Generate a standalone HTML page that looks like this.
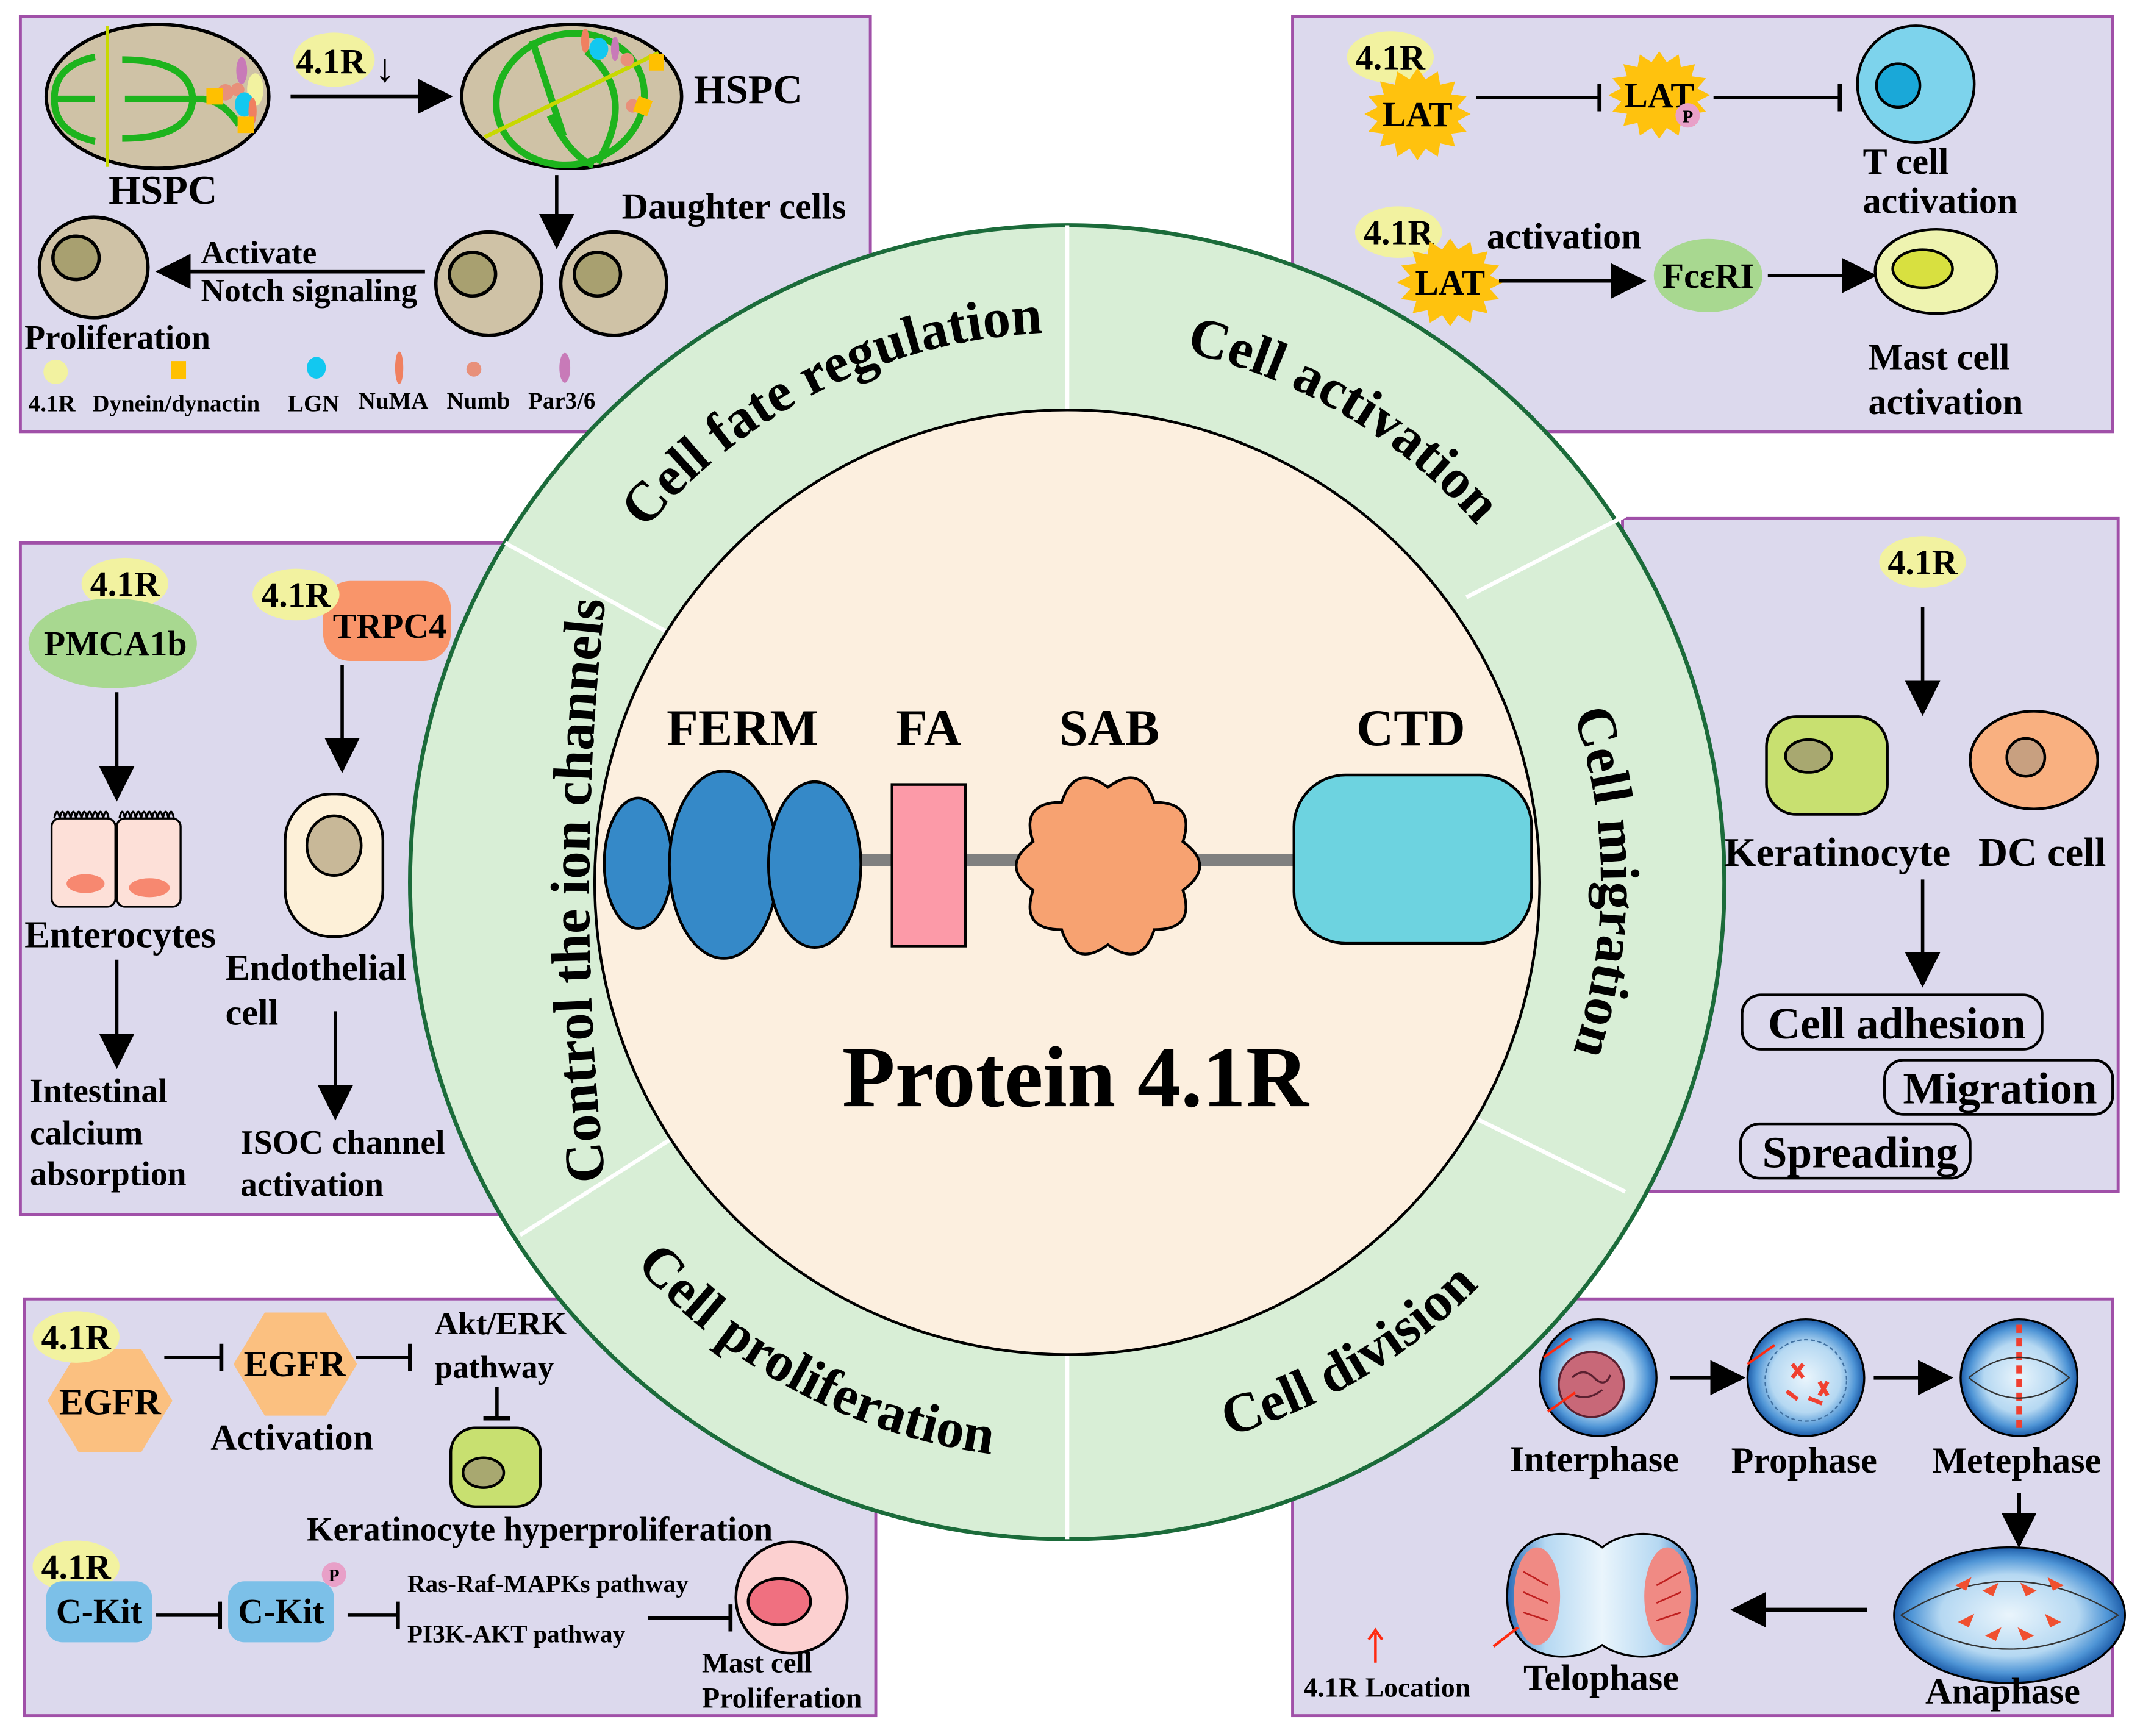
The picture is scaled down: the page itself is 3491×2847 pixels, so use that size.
<!DOCTYPE html>
<html><head><meta charset="utf-8"><style>
html,body{margin:0;padding:0;background:#fff;}
svg{display:block;}
text{font-family:"Liberation Serif",serif;font-weight:bold;fill:#000;}
</style></head><body>
<svg xmlns="http://www.w3.org/2000/svg" width="3491" height="2847" viewBox="0 0 1568 1279" preserveAspectRatio="none">
<defs>
<marker id="ah" viewBox="0 0 10 10" refX="9" refY="5" markerWidth="26" markerHeight="28" markerUnits="userSpaceOnUse" orient="auto"><path d="M0,0L10,5L0,10Z" fill="#000"/></marker>
<marker id="ib" viewBox="0 0 4 20" refX="2" refY="10" markerWidth="4" markerHeight="20" markerUnits="userSpaceOnUse" orient="auto"><path d="M2,0V20" stroke="#000" stroke-width="3"/></marker>
<radialGradient id="cg" cx="50%" cy="50%" r="50%"><stop offset="0" stop-color="#eaf5fc"/><stop offset="0.6" stop-color="#b5d8f2"/><stop offset="0.85" stop-color="#4f95d6"/><stop offset="1" stop-color="#1d5ca8"/></radialGradient>
<linearGradient id="tg" x1="0" x2="1" y1="0" y2="0"><stop offset="0" stop-color="#2a6cb8"/><stop offset="0.2" stop-color="#b5d8f2"/><stop offset="0.5" stop-color="#eaf5fc"/><stop offset="0.8" stop-color="#b5d8f2"/><stop offset="1" stop-color="#2a6cb8"/></linearGradient>
<g id="star"><polygon points="34,0 25.5,5.1 31.4,13 21.6,14.5 24,24 14.5,21.6 13,31.4 5.1,25.5 0,34 -5.1,25.5 -13,31.4 -14.5,21.6 -24,24 -21.6,14.5 -31.4,13 -25.5,5.1 -34,0 -25.5,-5.1 -31.4,-13 -21.6,-14.5 -24,-24 -14.5,-21.6 -13,-31.4 -5.1,-25.5 0,-34 5.1,-25.5 13,-31.4 14.5,-21.6 24,-24 21.6,-14.5 31.4,-13 25.5,-5.1" fill="#ffc20e"/></g>
<path id="pTL" d="M 450.3,423.5 A 405 405 0 0 1 786,245"/>
<path id="pTR" d="M 786,250 A 400 400 0 0 1 1109.6,414.9"/>
<path id="pR" d="M 1111.8,430.2 A 393 393 0 0 1 1111.8,869.8"/>
<path id="pBR" d="M 786,1075 A 425 425 0 0 0 1130.8,898.4"/>
<path id="pBL" d="M 433.7,887.6 A 425 425 0 0 0 786,1075"/>
<path id="pL" d="M 446,872 A 1932 1932 0 0 1 446,440"/>
</defs>

<rect width="1568" height="1279" fill="#fff"/>

<g fill="#dcd9ed" stroke="#a050a8" stroke-width="2.2">
<rect x="15" y="12" width="626" height="306"/>
<rect x="952" y="12" width="604" height="306"/>
<rect x="15" y="400" width="357" height="495"/>
<rect x="1195" y="382" width="365" height="496"/>
<rect x="18" y="957" width="627" height="307"/>
<rect x="952" y="957" width="604" height="307"/>
</g>

<circle cx="786" cy="650" r="484" fill="#d8eed6" stroke="#1b6b3a" stroke-width="3"/>
<g stroke="#fff" stroke-width="3">
<line x1="786" y1="166" x2="786" y2="302"/>
<line x1="786" y1="998" x2="786" y2="1134"/>
<line x1="372" y1="400" x2="492" y2="466"/>
<line x1="383" y1="910" x2="496" y2="838"/>
<line x1="1080" y1="440" x2="1197" y2="380"/>
<line x1="1085" y1="823" x2="1197" y2="878"/>
</g>
<circle cx="786" cy="650" r="348" fill="#fcefdf" stroke="#000" stroke-width="2"/>

<g font-size="41">
<text><textPath href="#pTL" startOffset="53%" text-anchor="middle">Cell fate regulation</textPath></text>
<text><textPath href="#pTR" startOffset="57%" text-anchor="middle">Cell activation</textPath></text>
<text><textPath href="#pR" startOffset="50%" text-anchor="middle">Cell migration</textPath></text>
<text><textPath href="#pBR" startOffset="57%" text-anchor="middle">Cell division</textPath></text>
<text><textPath href="#pBL" startOffset="50%" text-anchor="middle">Cell proliferation</textPath></text>
<text><textPath href="#pL" startOffset="50%" text-anchor="middle">Control the ion channels</textPath></text>
</g>

<g font-size="38">
<text x="491" y="549">FERM</text>
<text x="660" y="549">FA</text>
<text x="780" y="549">SAB</text>
<text x="999" y="549">CTD</text>
</g>
<rect x="630" y="629" width="325" height="9" fill="#808080"/>
<g stroke="#000" stroke-width="2">
<ellipse cx="470" cy="636" rx="25" ry="48" fill="#3589c8"/>
<ellipse cx="533" cy="637" rx="40" ry="69" fill="#3589c8"/>
<ellipse cx="600" cy="637" rx="34" ry="61" fill="#3589c8"/>
<rect x="657" y="578" width="54" height="119" fill="#fc9aa8"/>
<path d="M 871.2,620.1 Q 896,638 871.2,655.9 Q 880.7,685 850.1,684.9 Q 840.7,714.1 816,696 Q 791.3,714.1 781.9,684.9 Q 751.3,685 760.8,655.9 Q 736,638 760.8,620.1 Q 751.3,591 781.9,591.1 Q 791.3,561.9 816,580 Q 840.7,561.9 850.1,591.1 Q 880.7,591 871.2,620.1 Z" fill="#f7a271"/>
<rect x="953" y="571" width="175" height="124" rx="38" fill="#6dd3e0"/>
</g>
<text x="792" y="815" font-size="64" text-anchor="middle">Protein 4.1R</text>

<!-- TL panel -->
<g stroke="#000" stroke-width="2.5">
<ellipse cx="116" cy="71" rx="82" ry="53" fill="#cfc2a6"/>
<ellipse cx="421" cy="71" rx="81" ry="53" fill="#cfc2a6"/>
</g>
<line x1="79" y1="19" x2="79" y2="123" stroke="#c8d800" stroke-width="2"/>
<g fill="none" stroke="#1db41d" stroke-width="5">
<path d="M70,42 Q40,48 40,73 Q40,98 70,104"/>
<line x1="40" y1="73" x2="70" y2="73"/>
<path d="M90,44 Q140,44 142,73 Q140,102 90,102"/>
<path d="M92,73 H150 Q165,75 176,92"/>
<ellipse cx="420" cy="73" rx="55" ry="48" transform="rotate(-15 420 73)"/>
<path d="M392,30 L415,100"/>
<path d="M432,38 Q470,70 440,120"/>
<path d="M405,85 Q420,115 437,122"/>
</g>
<line x1="357" y1="101" x2="485" y2="39" stroke="#c8d800" stroke-width="3"/>
<ellipse cx="178" cy="52" rx="4" ry="10" fill="#c87ab8"/>
<circle cx="175" cy="66" r="5" fill="#e8907a"/>
<ellipse cx="188" cy="66" rx="6" ry="12" fill="#f2f2a0"/>
<circle cx="166" cy="68" r="6" fill="#e8907a"/>
<rect x="152" y="65" width="12" height="12" fill="#ffc000"/>
<ellipse cx="180" cy="77" rx="7" ry="9" fill="#12c8f0"/>
<ellipse cx="186" cy="82" rx="3" ry="10" fill="#f08060"/>
<rect x="175" y="86" width="12" height="12" fill="#ffc000"/>
<ellipse cx="441" cy="36" rx="7" ry="8" fill="#12c8f0"/>
<ellipse cx="431" cy="30" rx="3" ry="9" fill="#f08060"/>
<ellipse cx="453" cy="36" rx="3" ry="9" fill="#c87ab8"/>
<circle cx="462" cy="44" r="5" fill="#e8907a"/>
<rect x="478" y="40" width="11" height="12" fill="#ffc000"/>
<circle cx="466" cy="78" r="5" fill="#e8907a"/>
<rect x="468" y="72" width="11" height="12" fill="#ffc000" transform="rotate(20 473 78)"/>

<ellipse cx="246" cy="44" rx="30" ry="20" fill="#f2f2a0"/>
<text x="218" y="54" font-size="26">4.1R</text>
<text x="276" y="60" font-size="30">↓</text>
<line x1="214" y1="71" x2="331" y2="71" stroke="#000" stroke-width="3" marker-end="url(#ah)"/>
<text x="511" y="76" font-size="30">HSPC</text>
<text x="80" y="150" font-size="30">HSPC</text>
<line x1="410" y1="129" x2="410" y2="181" stroke="#000" stroke-width="2.5" marker-end="url(#ah)"/>
<text x="458" y="161" font-size="27">Daughter cells</text>
<g stroke="#000" stroke-width="2.5">
<ellipse cx="360" cy="209" rx="39" ry="38" fill="#cfc2a6"/>
<ellipse cx="348" cy="202" rx="17" ry="16" fill="#a8a070"/>
<ellipse cx="452" cy="209" rx="39" ry="38" fill="#cfc2a6"/>
<ellipse cx="440" cy="202" rx="17" ry="16" fill="#a8a070"/>
<ellipse cx="69" cy="197" rx="40" ry="37" fill="#cfc2a6"/>
<ellipse cx="56" cy="190" rx="17" ry="16" fill="#a8a070"/>
</g>
<line x1="313" y1="200" x2="117" y2="200" stroke="#000" stroke-width="3" marker-end="url(#ah)"/>
<text x="148" y="194" font-size="24">Activate</text>
<text x="148" y="222" font-size="24">Notch signaling</text>
<text x="18" y="257" font-size="25">Proliferation</text>
<circle cx="41" cy="274" r="9" fill="#f2f2a0"/>
<rect x="126" y="266" width="11" height="13" fill="#ffc000"/>
<ellipse cx="233" cy="271" rx="7" ry="8" fill="#12c8f0"/>
<ellipse cx="294" cy="271" rx="3" ry="12" fill="#f08060"/>
<circle cx="349" cy="272" r="5.5" fill="#e8907a"/>
<ellipse cx="416" cy="271" rx="4" ry="11" fill="#c87ab8"/>
<g font-size="17.5">
<text x="21" y="303">4.1R</text>
<text x="68" y="303">Dynein/dynactin</text>
<text x="212" y="303">LGN</text>
<text x="264" y="301">NuMA</text>
<text x="329" y="301">Numb</text>
<text x="389" y="301">Par3/6</text>
</g>

<!-- TR panel -->
<ellipse cx="1024" cy="42" rx="32" ry="19" fill="#f2f2a0"/>
<text x="1024" y="51" font-size="26" text-anchor="middle">4.1R</text>
<use href="#star" transform="translate(1044,84) scale(1.15,1)"/>
<text x="1044" y="93" font-size="26" text-anchor="middle">LAT</text>
<line x1="1087" y1="72" x2="1178" y2="72" stroke="#000" stroke-width="2.5" marker-end="url(#ib)"/>
<use href="#star" transform="translate(1222,70) scale(1.1,0.95)"/>
<text x="1222" y="79" font-size="26" text-anchor="middle">LAT</text>
<circle cx="1243" cy="85" r="9" fill="#e8a0c8"/>
<text x="1243" y="90" font-size="13" text-anchor="middle">P</text>
<line x1="1262" y1="72" x2="1355" y2="72" stroke="#000" stroke-width="2.5" marker-end="url(#ib)"/>
<circle cx="1411" cy="62" r="43" fill="#7dd3ec" stroke="#000" stroke-width="2"/>
<circle cx="1398" cy="63" r="16" fill="#1aa8d8" stroke="#000" stroke-width="2"/>
<text x="1372" y="128" font-size="27">T cell</text>
<text x="1372" y="157" font-size="27">activation</text>
<ellipse cx="1030" cy="171" rx="32" ry="19" fill="#f2f2a0"/>
<text x="1030" y="180" font-size="26" text-anchor="middle">4.1R</text>
<text x="1095" y="183" font-size="27">activation</text>
<use href="#star" transform="translate(1068,208) scale(1.15,0.95)"/>
<text x="1068" y="217" font-size="26" text-anchor="middle">LAT</text>
<line x1="1104" y1="207" x2="1210" y2="207" stroke="#000" stroke-width="2.5" marker-end="url(#ah)"/>
<ellipse cx="1258" cy="203" rx="40" ry="27" fill="#a8d890"/>
<text x="1258" y="212" font-size="26" text-anchor="middle">FcεRI</text>
<line x1="1302" y1="203" x2="1380" y2="203" stroke="#000" stroke-width="2.5" marker-end="url(#ah)"/>
<ellipse cx="1426" cy="200" rx="45" ry="31" fill="#eef3b0" stroke="#000" stroke-width="2"/>
<ellipse cx="1416" cy="198" rx="22" ry="14" fill="#d8e040" stroke="#000" stroke-width="2"/>
<text x="1376" y="272" font-size="27">Mast cell</text>
<text x="1376" y="305" font-size="27">activation</text>

<!-- ML panel -->
<ellipse cx="92" cy="430" rx="32" ry="19" fill="#f2f2a0"/>
<text x="92" y="439" font-size="26" text-anchor="middle">4.1R</text>
<ellipse cx="83" cy="474" rx="62" ry="33" fill="#a8d890"/>
<text x="85" y="483" font-size="26" text-anchor="middle">PMCA1b</text>
<line x1="86" y1="510" x2="86" y2="588" stroke="#000" stroke-width="2.5" marker-end="url(#ah)"/>
<g stroke="#000" stroke-width="1.5">
<rect x="38" y="603" width="47" height="65" rx="6" fill="#fde0d8"/>
<rect x="86" y="603" width="47" height="65" rx="6" fill="#fde0d8"/>
</g>
<path d="M40,603 q2,-10 4,0 q2,-10 4,0 q2,-10 4,0 q2,-10 4,0 q2,-10 4,0 q2,-10 4,0 q2,-10 4,0 q2,-10 4,0 q2,-10 4,0 q2,-10 4,0 M88,603 q2,-10 4,0 q2,-10 4,0 q2,-10 4,0 q2,-10 4,0 q2,-10 4,0 q2,-10 4,0 q2,-10 4,0 q2,-10 4,0 q2,-10 4,0 q2,-10 4,0" fill="none" stroke="#000" stroke-width="1.5"/>
<ellipse cx="63" cy="651" rx="14" ry="7" fill="#f78870"/>
<ellipse cx="110" cy="654" rx="15" ry="7" fill="#f78870"/>
<text x="18" y="698" font-size="28">Enterocytes</text>
<line x1="86" y1="707" x2="86" y2="785" stroke="#000" stroke-width="2.5" marker-end="url(#ah)"/>
<text x="22" y="812" font-size="25">Intestinal</text>
<text x="22" y="843" font-size="25">calcium</text>
<text x="22" y="873" font-size="25">absorption</text>
<rect x="238" y="428" width="94" height="59" rx="20" fill="#f9956a"/>
<ellipse cx="218" cy="438" rx="32" ry="19" fill="#f2f2a0"/>
<text x="218" y="447" font-size="26" text-anchor="middle">4.1R</text>
<text x="287" y="470" font-size="26" text-anchor="middle">TRPC4</text>
<line x1="252" y1="490" x2="252" y2="567" stroke="#000" stroke-width="2.5" marker-end="url(#ah)"/>
<rect x="210" y="585" width="72" height="105" rx="34" fill="#fdf0d8" stroke="#000" stroke-width="2"/>
<ellipse cx="246" cy="623" rx="20" ry="22" fill="#c8b898" stroke="#000" stroke-width="2"/>
<text x="166" y="722" font-size="27">Endothelial</text>
<text x="166" y="755" font-size="27">cell</text>
<line x1="247" y1="745" x2="247" y2="823" stroke="#000" stroke-width="2.5" marker-end="url(#ah)"/>
<text x="177" y="850" font-size="25">ISOC channel</text>
<text x="177" y="881" font-size="25">activation</text>

<!-- MR panel -->
<ellipse cx="1416" cy="414" rx="32" ry="19" fill="#f2f2a0"/>
<text x="1416" y="423" font-size="26" text-anchor="middle">4.1R</text>
<line x1="1416" y1="447" x2="1416" y2="525" stroke="#000" stroke-width="2.5" marker-end="url(#ah)"/>
<rect x="1301" y="528" width="89" height="72" rx="22" fill="#c8e070" stroke="#000" stroke-width="2"/>
<ellipse cx="1332" cy="557" rx="17" ry="12" fill="#a8a870" stroke="#000" stroke-width="2"/>
<ellipse cx="1498" cy="560" rx="47" ry="36" fill="#f9b080" stroke="#000" stroke-width="2"/>
<circle cx="1492" cy="558" r="14" fill="#c8a080" stroke="#000" stroke-width="2"/>
<text x="1270" y="638" font-size="30">Keratinocyte</text>
<text x="1457" y="638" font-size="30">DC cell</text>
<line x1="1416" y1="648" x2="1416" y2="725" stroke="#000" stroke-width="2.5" marker-end="url(#ah)"/>
<g fill="none" stroke="#000" stroke-width="2">
<rect x="1283" y="733" width="221" height="40" rx="14"/>
<rect x="1388" y="781" width="168" height="40" rx="14"/>
<rect x="1282" y="828" width="169" height="40" rx="14"/>
</g>
<text x="1397" y="765" font-size="33" text-anchor="middle">Cell adhesion</text>
<text x="1473" y="813" font-size="33" text-anchor="middle">Migration</text>
<text x="1370" y="860" font-size="33" text-anchor="middle">Spreading</text>

<!-- BL panel -->
<polygon points="35,1032 58,994 104,994 127,1032 104,1070 58,1070" fill="#fbc080"/>
<ellipse cx="56" cy="985" rx="32" ry="19" fill="#f2f2a0"/>
<text x="56" y="994" font-size="26" text-anchor="middle">4.1R</text>
<text x="81" y="1042" font-size="27" text-anchor="middle">EGFR</text>
<line x1="121" y1="1000" x2="163" y2="1000" stroke="#000" stroke-width="2.5" marker-end="url(#ib)"/>
<polygon points="172,1005 195,967 240,967 263,1005 240,1043 195,1043" fill="#fbc080"/>
<text x="217" y="1014" font-size="27" text-anchor="middle">EGFR</text>
<text x="155" y="1068" font-size="27">Activation</text>
<line x1="262" y1="1000" x2="302" y2="1000" stroke="#000" stroke-width="2.5" marker-end="url(#ib)"/>
<text x="320" y="983" font-size="24">Akt/ERK</text>
<text x="320" y="1015" font-size="24">pathway</text>
<line x1="366" y1="1022" x2="366" y2="1045" stroke="#000" stroke-width="2.5" marker-end="url(#ib)"/>
<rect x="332" y="1052" width="66" height="58" rx="18" fill="#c8e070" stroke="#000" stroke-width="2"/>
<ellipse cx="356" cy="1085" rx="15" ry="11" fill="#a8a870" stroke="#000" stroke-width="2"/>
<text x="226" y="1135" font-size="25">Keratinocyte hyperproliferation</text>
<ellipse cx="56" cy="1154" rx="32" ry="19" fill="#f2f2a0"/>
<text x="56" y="1163" font-size="26" text-anchor="middle">4.1R</text>
<rect x="34" y="1165" width="78" height="45" rx="12" fill="#7cc0e8"/>
<text x="73" y="1196" font-size="26" text-anchor="middle">C-Kit</text>
<line x1="115" y1="1190" x2="162" y2="1190" stroke="#000" stroke-width="2.5" marker-end="url(#ib)"/>
<rect x="168" y="1165" width="78" height="45" rx="12" fill="#7cc0e8"/>
<text x="207" y="1196" font-size="26" text-anchor="middle">C-Kit</text>
<circle cx="246" cy="1160" r="9" fill="#e8a0c8"/>
<text x="246" y="1165" font-size="13" text-anchor="middle">P</text>
<line x1="256" y1="1190" x2="293" y2="1190" stroke="#000" stroke-width="2.5" marker-end="url(#ib)"/>
<text x="300" y="1173" font-size="18.5">Ras-Raf-MAPKs pathway</text>
<text x="300" y="1210" font-size="18.5">PI3K-AKT pathway</text>
<line x1="477" y1="1192" x2="538" y2="1192" stroke="#000" stroke-width="2.5" marker-end="url(#ib)"/>
<circle cx="583" cy="1177" r="41" fill="#fcd0d0" stroke="#000" stroke-width="2"/>
<ellipse cx="574" cy="1180" rx="23" ry="17" fill="#f07080" stroke="#000" stroke-width="2"/>
<text x="517" y="1232" font-size="21">Mast cell</text>
<text x="517" y="1258" font-size="21.5">Proliferation</text>

<!-- BR panel -->
<g stroke="#000" stroke-width="1.5">
<circle cx="1177" cy="1015" r="43" fill="url(#cg)"/>
<circle cx="1330" cy="1015" r="43" fill="url(#cg)"/>
<circle cx="1487" cy="1015" r="43" fill="url(#cg)"/>
</g>
<circle cx="1172" cy="1020" r="24" fill="#c86878" stroke="#5a2030" stroke-width="1.5"/>
<path d="M1158,1015 q8,-8 16,0 q8,8 12,-2 M1160,1028 q10,4 20,-4" fill="none" stroke="#5a2030" stroke-width="1.5"/>
<circle cx="1330" cy="1017" r="30" fill="none" stroke="#4070a0" stroke-width="1" stroke-dasharray="3 2"/>
<g stroke="#f04030" stroke-width="3">
<path d="M1320,1005 l8,10 M1328,1005 l-8,10 M1340,1018 l6,10 M1346,1018 l-6,10 M1316,1025 l8,6 M1332,1030 l10,4"/>
<line x1="1487" y1="976" x2="1487" y2="1054" stroke-dasharray="6 4" stroke-width="4"/>
</g>
<path d="M1450,1015 Q1487,985 1524,1015 Q1487,1045 1450,1015" fill="none" stroke="#333" stroke-width="1"/>
<g stroke="#ff2a10" stroke-width="1.8" fill="none">
<path d="M1137,1000 l20,-14 M1140,1040 l20,-14 M1287,1005 l20,-14"/>
</g>
<line x1="1230" y1="1015" x2="1283" y2="1015" stroke="#000" stroke-width="3" marker-end="url(#ah)"/>
<line x1="1380" y1="1015" x2="1436" y2="1015" stroke="#000" stroke-width="3" marker-end="url(#ah)"/>
<line x1="1487" y1="1100" x2="1487" y2="1138" stroke="#000" stroke-width="3" marker-end="url(#ah)"/>
<ellipse cx="1480" cy="1190" rx="85" ry="50" fill="url(#cg)" stroke="#000" stroke-width="1.5"/>
<path d="M1400,1190 Q1480,1140 1560,1190 Q1480,1240 1400,1190" fill="none" stroke="#333" stroke-width="1"/>
<g fill="#f05030">
<path d="M1440,1168 l12,-6 l-4,10z M1460,1172 l12,-6 l-4,10z M1442,1195 l12,-6 l-4,10z M1462,1205 l12,-6 l-4,10z"/>
<path d="M1520,1168 l-12,-6 l4,10z M1500,1172 l-12,-6 l4,10z M1518,1195 l-12,-6 l4,10z M1498,1205 l-12,-6 l4,10z"/>
</g>
<line x1="1375" y1="1186" x2="1277" y2="1186" stroke="#000" stroke-width="3" marker-end="url(#ah)"/>
<path d="M1180,1140 C1160,1124 1110,1122 1110,1176 C1110,1228 1160,1226 1180,1212 C1200,1226 1250,1228 1250,1176 C1250,1122 1200,1124 1180,1140 Z" fill="url(#tg)" stroke="#000" stroke-width="1.5"/>
<ellipse cx="1132" cy="1176" rx="17" ry="36" fill="#f08a84"/>
<ellipse cx="1228" cy="1176" rx="17" ry="36" fill="#f08a84"/>
<g stroke="#c02020" stroke-width="1.2"><path d="M1122,1158 l18,10 M1122,1173 l18,8 M1122,1188 l18,6 M1238,1158 l-18,10 M1238,1173 l-18,8 M1238,1188 l-18,6"/></g>
<path d="M1100,1213 l18,-14" stroke="#ff2a10" stroke-width="2"/>
<g font-size="27">
<text x="1112" y="1084">Interphase</text>
<text x="1275" y="1085">Prophase</text>
<text x="1423" y="1085">Metephase</text>
<text x="1418" y="1255">Anaphase</text>
<text x="1122" y="1245">Telophase</text>
</g>
<line x1="1013" y1="1225" x2="1013" y2="1203" stroke="#ff2a10" stroke-width="2"/>
<path d="M1008,1208 l5,-7 l5,7" fill="none" stroke="#ff2a10" stroke-width="2"/>
<text x="960" y="1250" font-size="20.5">4.1R Location</text>
</svg>
</body></html>
